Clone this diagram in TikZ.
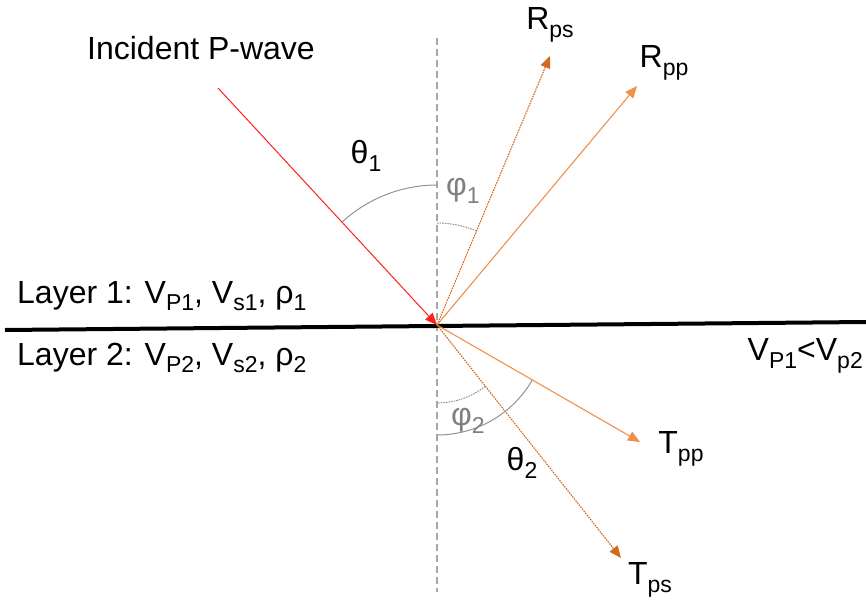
\documentclass[tikz,border=0pt]{standalone}
\usepackage{fontspec}
\setmainfont{Liberation Sans}
\usetikzlibrary{arrows.meta,calc}
\definecolor{wvred}{HTML}{FF1F1F}
\definecolor{wvorange}{HTML}{F0904A}
\definecolor{wvbrown}{HTML}{D2691E}
\definecolor{wvgray}{HTML}{808080}
\newcommand{\lowsub}[1]{\raisebox{-0.45ex}{\fontsize{23}{23}\selectfont #1}}

\begin{document}
\begin{tikzpicture}[
  x=1pt,y=1pt,
  every node/.style={font=\fontsize{32}{38}\selectfont,inner sep=0pt},
  tip/.style={-{Triangle[length=12pt,width=10pt]}},
  inc/.style={tip,wvred,line width=1pt},
  P/.style={tip,wvorange,line width=1.1pt},
  S/.style={tip,wvbrown,line width=1.1pt,dash pattern=on 1.6pt off 1pt},
  ang/.style={wvgray!85,line width=1pt},
  angd/.style={wvgray!85,line width=1pt,dash pattern=on 1.6pt off 1pt},
  lbl/.style={text=black},
  glbl/.style={text=wvgray}
]
\useasboundingbox (0,0) rectangle (866,-604);

% interface and normal
\coordinate (O) at (437,-325);
\draw[wvgray!70,line width=1.1pt,dash pattern=on 7pt off 4pt]
     (437,-38) -- (437,-592);
\draw[black,line width=4pt] (5,-330) -- (866,-322);

% ray ends
\coordinate (Src) at (218,-88);
\coordinate (Rps) at (550,-56);
\coordinate (Rpp) at (637,-86);
\coordinate (Tpp) at (640,-442);
\coordinate (Tps) at (621,-558);

\draw[inc](Src)--(O);
\draw[S](O)--(Rps);
\draw[P](O)--(Rpp);
\draw[P](O)--(Tpp);
\draw[S](O)--(Tps);

% angles
\draw[ang]($(O)+(132.7:140)$) arc[start angle=132.7,end angle=90,radius=140];
\draw[angd]($(O)+(67.2:102)$) arc[start angle=67.2,end angle=90,radius=102];
\draw[ang]($(O)+(-30:110)$) arc[start angle=-30,end angle=-90,radius=110];
\draw[angd]($(O)+(-51.7:78)$) arc[start angle=-51.7,end angle=-90,radius=78];

% labels
\node[lbl](inctxt) at (201,-48){Incident P-wave};
\node[lbl](rpslbl) at (550,-25){R\lowsub{ps}};
\node[lbl](rpplbl) at (664,-63){R\lowsub{pp}};
\node[lbl](tpplbl) at (681,-449){T\lowsub{pp}};
\node[lbl](tpslbl) at (650,-580){T\lowsub{ps}};
\node[lbl](th1) at (366,-156){θ\lowsub{1}};
\node[glbl](ph1) at (463,-191){φ\lowsub{1}};
\node[glbl](ph2) at (468,-421){φ\lowsub{2}};
\node[lbl](th2) at (522,-463){θ\lowsub{2}};
\node[lbl,anchor=west](lay1) at (17,-296){Layer 1: V\lowsub{P1}, V\lowsub{s1}, ρ\lowsub{1}};
\node[lbl,anchor=west](lay2) at (17,-358){Layer 2: V\lowsub{P2}, V\lowsub{s2}, ρ\lowsub{2}};
\node[lbl,anchor=east](vrel) at (863,-356){V\lowsub{P1}<V\lowsub{p2}};
\end{tikzpicture}
\end{document}
